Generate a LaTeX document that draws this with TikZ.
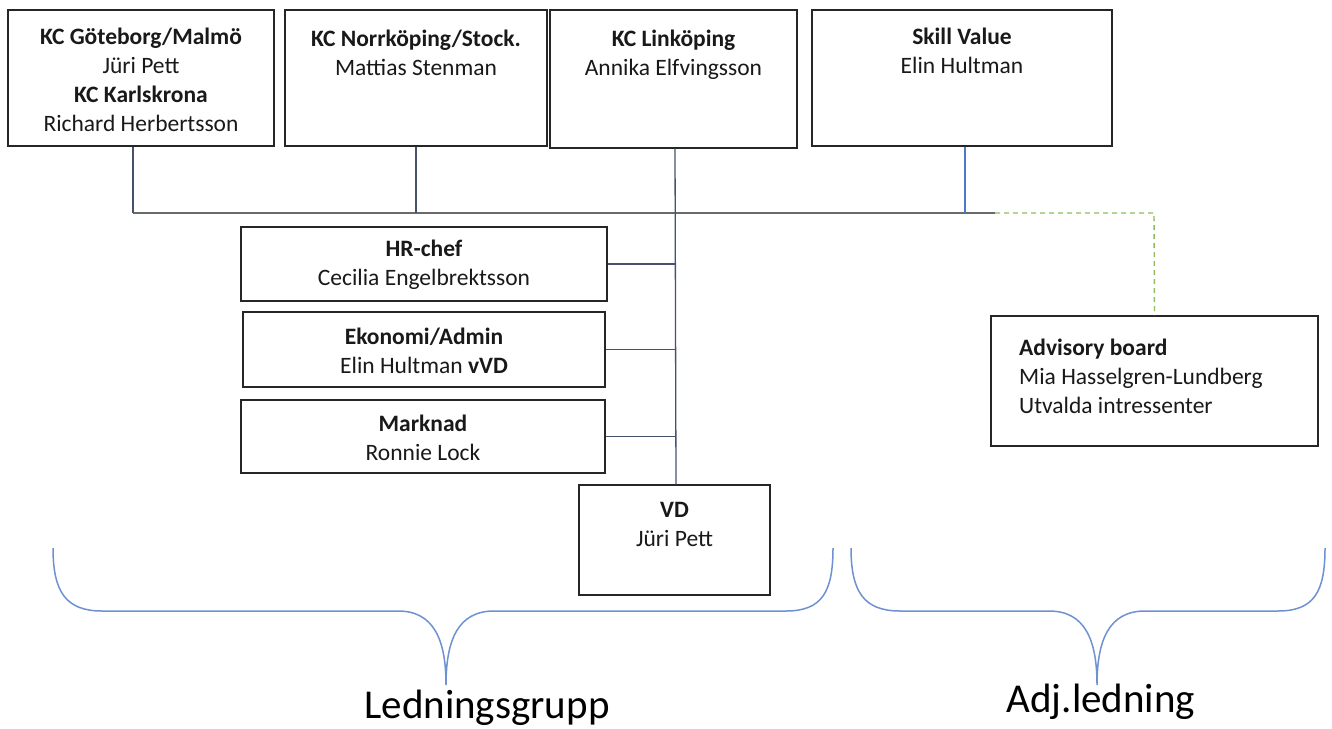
\documentclass[tikz,border=0pt]{standalone}
\usepackage{fontspec}
\setmainfont{Carlito}
\definecolor{lncol}{RGB}{70,82,108}
\definecolor{buscol}{RGB}{105,105,110}
\definecolor{bluecol}{RGB}{80,120,200}
\definecolor{bracecol}{RGB}{110,145,210}
\definecolor{greencol}{RGB}{140,190,95}
\begin{document}
\begin{tikzpicture}[x=1pt,y=-1pt,
  box/.style={draw=black!85,line width=1.3pt,rectangle,inner sep=0pt},
  txt/.style={align=center,inner sep=0pt,font=\fontsize{23.5}{29}\selectfont,text=black!90},
  conn/.style={draw=lncol,line width=1.3pt},
  bus/.style={draw=buscol,line width=2.2pt},
  blueline/.style={draw=bluecol,line width=1.3pt},
  adv/.style={draw=greencol,line width=1.4pt,dash pattern=on 5pt off 4pt},
  brace/.style={draw=bracecol,line width=1.5pt},
  big/.style={inner sep=0pt,font=\fontsize{41}{44}\selectfont,text=black}]
\useasboundingbox (0,0) rectangle (1332,728);
\fill[white] (0,0) rectangle (1332,728);

% top boxes
\node[box,minimum width=266pt,minimum height=136pt] (b1) at (141,78) {};
\node[box,minimum width=262pt,minimum height=136pt] (b2) at (416,78) {};
\node[box,minimum width=247pt,minimum height=138pt] (b3) at (673.5,79) {};
\node[box,minimum width=300pt,minimum height=136pt] (b4) at (962,78) {};
\node[txt,anchor=north] (t1) at (141,28) {\textbf{KC Göteborg/Malmö}\\Jüri Pett\\\textbf{KC Karlskrona}\\Richard Herbertsson};
\node[txt,anchor=north] (t2) at (416,30) {\textbf{KC Norrköping/Stock.}\\Mattias Stenman};
\node[txt,anchor=north] (t3) at (673.5,30) {\textbf{KC Linköping}\\Annika Elfvingsson};
\node[txt,anchor=north] (t4) at (962,28) {\textbf{Skill Value}\\Elin Hultman};

% staff boxes
\node[box,minimum width=366pt,minimum height=74pt] (hr) at (424,264) {};
\node[box,minimum width=362pt,minimum height=75pt] (ek) at (424,349.5) {};
\node[box,minimum width=364pt,minimum height=73pt] (mk) at (423,436.5) {};
\node[txt] (thr) at (424,265) {\textbf{HR-chef}\\Cecilia Engelbrektsson};
\node[txt] (tek) at (424,350.5) {\textbf{Ekonomi/Admin}\\Elin Hultman \textbf{vVD}};
\node[txt] (tmk) at (423,437.5) {\textbf{Marknad}\\Ronnie Lock};

% VD
\node[box,minimum width=191pt,minimum height=110pt] (vd) at (674.5,540) {};
\node[txt,anchor=north] (tvd) at (674.5,502) {\textbf{VD}\\Jüri Pett};

% advisory
\node[box,minimum width=327pt,minimum height=130pt] (ad) at (1154.5,381) {};
\node[txt,align=left,anchor=north west] (tad) at (1019,339) {\textbf{Advisory board}\\Mia Hasselgren-Lundberg\\Utvalda intressenter};

% bus
\coordinate (busL) at (133,213);
\coordinate (busR) at (995,213);
\coordinate (advC) at (1154,213);
\draw[bus] (busL) -- (busR);
\draw[conn] ([xshift=-8pt]b1.south) -- (busL);
\draw[conn] (b2.south) -- (b2.south |- busL);
\draw[conn] ([xshift=1.5pt]b3.south) -- ([xshift=1.5pt]vd.north);
\draw[blueline] ([xshift=3pt]b4.south) -- ([xshift=3pt]b4.south |- busL);
\draw[adv] (busR) -- (advC) -- (ad.north);

% staff connectors
\draw[conn] (hr.east) -- ([xshift=1.5pt]hr.east -| vd.north);
\draw[conn] (ek.east) -- ([xshift=1.5pt]ek.east -| vd.north);
\draw[conn] (mk.east) -- ([xshift=1.5pt]mk.east -| vd.north);

% braces
\draw[brace] (53,548) .. controls (53,592) and (66,611) .. (102,611) -- (398,611)
  .. controls (434,611) and (446,640) .. (446,685)
  .. controls (446,640) and (458,611) .. (494,611) -- (786,611)
  .. controls (822,611) and (833,592) .. (833,548);
\draw[brace] (851,548) .. controls (851,592) and (864,611) .. (900,611) -- (1049,611)
  .. controls (1085,611) and (1097,640) .. (1097,685)
  .. controls (1097,640) and (1109,611) .. (1145,611) -- (1278,611)
  .. controls (1314,611) and (1325,592) .. (1325,548);

\node[big] (lg) at (487,708) {Ledningsgrupp};
\node[big] (aj) at (1101,702) {Adj.ledning};
\end{tikzpicture}
\end{document}
